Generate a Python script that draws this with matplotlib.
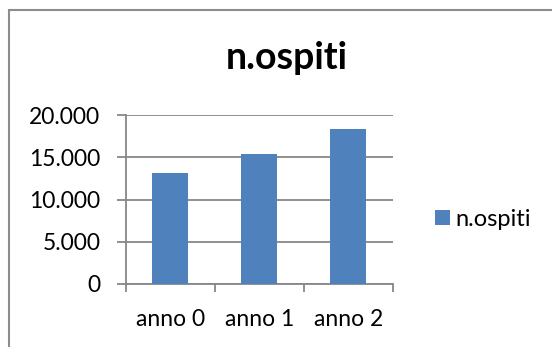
import matplotlib
matplotlib.use("Agg")
import matplotlib.pyplot as plt
from matplotlib.patches import Rectangle

categories = ["anno 0", "anno 1", "anno 2"]
ospiti = [13150, 15400, 18340]
y_ticks = [0, 5000, 10000, 15000, 20000]
y_labels = ["0", "5.000", "10.000", "15.000", "20.000"]
series_name = "n.ospiti"

W, H, DPI = 552, 347, 100
plt.rcParams["font.family"] = ["Lato", "DejaVu Sans"]

fig = plt.figure(figsize=(W / DPI, H / DPI), dpi=DPI)
fig.patch.set_facecolor("white")

# chart-area border (runs off the right and bottom edges)
fig.add_artist(Rectangle((8.5 / W, -0.1), 1.2, (H - 10) / H + 0.1,
                         transform=fig.transFigure, fill=False,
                         edgecolor="#8c8c8c", linewidth=1.5))

ax = fig.add_axes([125.7 / W, (H - 283.7) / H,
                   (392.7 - 125.7) / W, (283.7 - 115.3) / H])

x = range(len(categories))
bars = ax.bar(x, ospiti, width=0.4, color="#4F81BD", zorder=3,
              label=series_name)

ax.set_xlim(-0.5, len(categories) - 0.5)
ax.set_ylim(0, 20000)
ax.set_yticks(y_ticks)
ax.set_yticklabels(y_labels)
ax.set_xticks(x)
ax.set_xticklabels(categories)
ax.set_xticks([i - 0.5 for i in range(len(categories) + 1)], minor=True)

ax.yaxis.grid(True, color="#878787", linewidth=1.3, zorder=0)
for s in ("top", "right"):
    ax.spines[s].set_visible(False)
for s in ("left", "bottom"):
    ax.spines[s].set_color("#878787")
    ax.spines[s].set_linewidth(1.3)

ax.tick_params(axis="y", length=6.3, width=1.3, color="#878787",
               pad=12, labelsize=16.5, labelcolor="black")
ax.tick_params(axis="x", which="major", length=0, pad=18,
               labelsize=16.5, labelcolor="black")
ax.tick_params(axis="x", which="minor", length=6, width=1.3,
               color="#878787")

fig.text(287 / W, 1 - 58 / H, series_name, ha="center", va="center",
         fontsize=27, fontweight="bold")

leg = fig.legend(handles=[bars], labels=[series_name],
                 loc="center left", bbox_to_anchor=(435 / W, 1 - 219 / H),
                 frameon=False, fontsize=17, handlelength=0.62,
                 handleheight=0.62, handletextpad=0.25, borderpad=0,
                 borderaxespad=0)

fig.savefig("out.png", dpi=DPI, facecolor="white")
